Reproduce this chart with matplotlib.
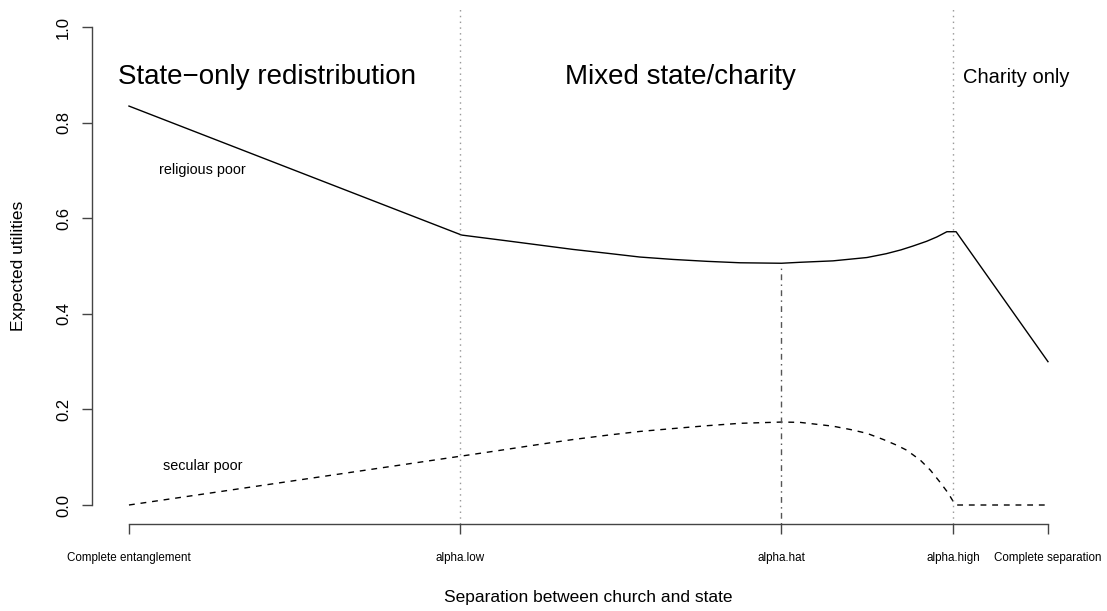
import numpy as np
import matplotlib
matplotlib.use("Agg")
import matplotlib.pyplot as plt

plt.rcParams['font.family'] = ['Liberation Sans', 'DejaVu Sans']

# regime boundaries on the separation axis
alpha_low = 0.36
alpha_hat = 0.71
alpha_high = 0.897

tick_pos = [0, alpha_low, alpha_hat, alpha_high, 1.0]
tick_lab = ['Complete entanglement', 'alpha.low', 'alpha.hat', 'alpha.high', 'Complete separation']

# expected utility, religious poor
rel_x = [0, 0.362, 0.411, 0.447, 0.483, 0.520, 0.556, 0.592, 0.629, 0.665, 0.710,
         0.730, 0.766, 0.803, 0.824, 0.840, 0.853, 0.868, 0.879, 0.890, 0.900, 1.0]
rel_y = [0.835, 0.565, 0.553, 0.544, 0.535, 0.527, 0.519, 0.514, 0.510, 0.507, 0.506,
         0.508, 0.511, 0.518, 0.526, 0.534, 0.542, 0.552, 0.561, 0.572, 0.572, 0.30]

# expected utility, secular poor
sec_x = [0, 0.362, 0.411, 0.447, 0.483, 0.520, 0.556, 0.592, 0.629, 0.665, 0.710,
         0.730, 0.748, 0.766, 0.785, 0.803, 0.821, 0.835, 0.846, 0.861, 0.872, 0.882,
         0.891, 0.897, 0.900, 1.0]
sec_y = [0, 0.1025, 0.1165, 0.127, 0.137, 0.146, 0.154, 0.160, 0.166, 0.171, 0.1736,
         0.173, 0.169, 0.165, 0.158, 0.150, 0.137, 0.1255, 0.115, 0.094, 0.073, 0.049,
         0.026, 0.007, 0, 0]

rel_at_hat = 0.505

fig = plt.figure(figsize=(11.07, 6.11), dpi=100)
ax = fig.add_axes([0.0833, 0.1422, 0.8966, 0.8445])
ax.set_xlim(-0.04, 1.04)
ax.set_ylim(-0.04, 1.04)

ax.plot(rel_x, rel_y, color='black', lw=1.0)
ax.plot(sec_x, sec_y, color='black', lw=1.0, dashes=(4.2, 4.2))

for a in (alpha_low, alpha_high):
    ax.axvline(a, color='#999999', lw=1.0, dashes=(1.05, 3.1))
ax.plot([alpha_hat, alpha_hat], [-0.04, rel_at_hat], color='#555555', lw=1.0,
        dashes=(1.05, 3.1, 4.2, 3.1))

ax.text(0.15, 0.882, 'State\u2212only redistribution', fontsize=20, ha='center', va='baseline')
ax.text(0.60, 0.882, 'Mixed state/charity', fontsize=20, ha='center', va='baseline')
ax.text(0.965, 0.884, 'Charity only', fontsize=14.5, ha='center', va='baseline')
ax.text(0.08, 0.693, 'religious poor', fontsize=10.4, ha='center', va='baseline')
ax.text(0.08, 0.073, 'secular poor', fontsize=10.4, ha='center', va='baseline')

for s in ('top', 'right'):
    ax.spines[s].set_visible(False)
ax.spines['left'].set_bounds(0, 1)
ax.spines['bottom'].set_bounds(0, 1)
for s in ('left', 'bottom'):
    ax.spines[s].set_color('#444444')
    ax.spines[s].set_linewidth(1.0)

ax.set_xticks(tick_pos)
ax.set_xticklabels(tick_lab, fontsize=8.4)
ax.set_yticks([0, 0.2, 0.4, 0.6, 0.8, 1.0])
ax.set_yticklabels(['0.0', '0.2', '0.4', '0.6', '0.8', '1.0'], fontsize=12, rotation=90, va='center')
ax.tick_params(axis='both', direction='out', length=7.2, width=1.0, color='#444444')
ax.tick_params(axis='x', pad=13)
ax.tick_params(axis='y', pad=8)

ax.set_xlabel('Separation between church and state', fontsize=12.5)
ax.xaxis.set_label_coords(0.5, -0.128)
fig.text(18 / 1107, 1 - 266 / 611, 'Expected utilities', fontsize=12.5, rotation=90,
         ha='center', va='center')

fig.savefig('out.png', dpi=100)
